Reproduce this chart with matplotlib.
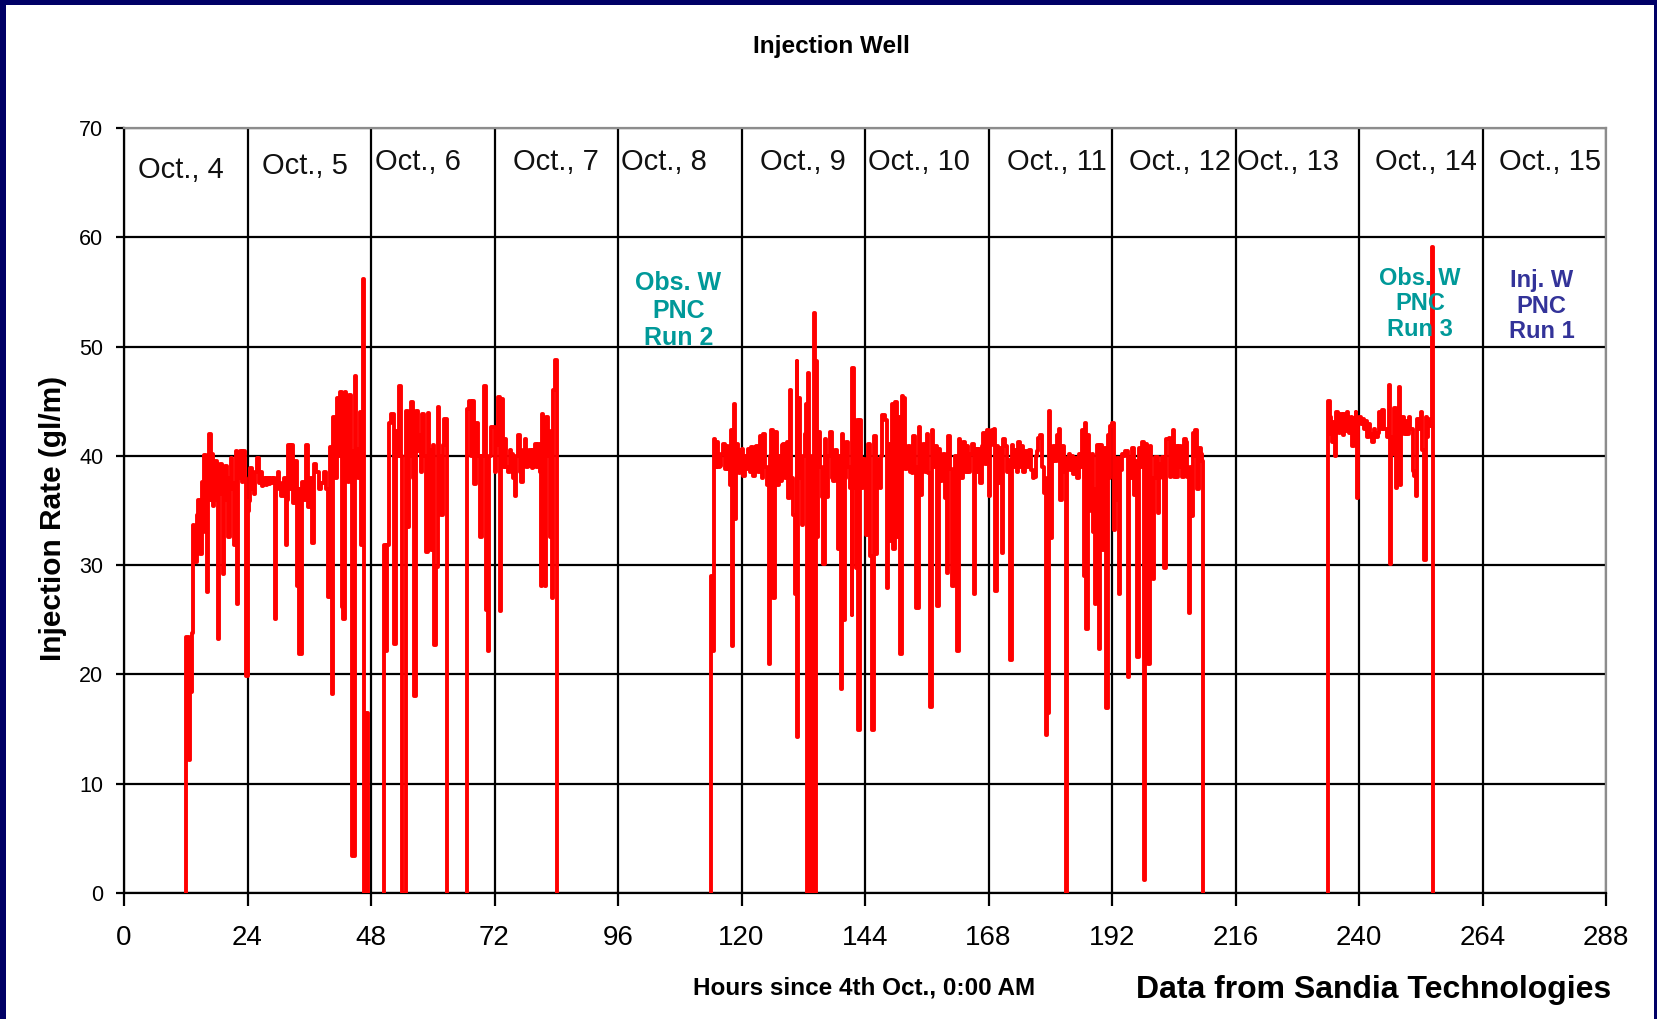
import matplotlib
matplotlib.use("Agg")
import matplotlib.pyplot as plt
from matplotlib.patches import Rectangle
import numpy as np

plt.rcParams['font.family'] = ['Liberation Sans', 'DejaVu Sans']

# Injection rate readings, (hours since 4th Oct 0:00, rate in gl/m)
# Oct 4 - Oct 5
run_a = [
    (12.0, 0), (12.0, 23.4), (12.5, 23.4), (12.6, 12.2), (12.9, 18.4), (13.1, 18.4),
    (13.2, 23.8), (13.4, 23.8), (13.5, 33.7), (13.7, 30.3), (14.1, 34.6), (14.4, 36.0),
    (14.8, 31.0), (15.1, 37.6), (15.4, 33.0), (15.6, 40.1), (16.0, 38.5), (16.2, 27.5),
    (16.4, 38.0), (16.6, 42.0), (16.9, 36.0), (17.0, 40.2), (17.2, 35.4), (17.5, 39.0),
    (17.7, 39.5), (18.0, 36.0), (18.3, 23.2), (18.5, 36.5), (18.7, 39.3), (19.0, 37.0),
    (19.3, 29.2), (19.5, 36.0), (19.6, 39.1), (20.0, 37.0), (20.3, 32.6), (20.6, 38.0),
    (20.8, 39.8), (21.0, 37.0), (21.3, 31.8), (21.5, 37.5), (21.7, 40.4), (21.9, 26.4),
    (22.2, 38.0), (22.6, 40.4), (22.9, 37.6), (23.2, 40.4), (23.5, 38.0), (23.7, 19.9),
    (24.0, 35.0), (24.2, 35.9), (24.5, 38.9), (24.8, 37.0), (25.2, 36.5), (25.5, 38.5),
    (25.9, 39.8), (26.2, 37.5), (26.5, 38.5), (26.8, 37.2), (27.1, 38.0), (27.5, 37.3),
    (27.8, 38.0), (28.1, 37.4), (28.4, 38.0), (28.8, 37.5), (29.1, 38.0), (29.4, 25.1),
    (29.6, 37.0), (29.9, 38.5), (30.2, 37.5), (30.6, 36.3), (31.0, 38.0), (31.5, 31.8),
    (31.7, 36.0), (31.9, 41.0), (32.2, 37.0), (32.5, 41.0), (32.9, 35.7), (33.3, 39.5),
    (33.7, 28.1), (34.0, 37.0), (34.1, 21.9), (34.6, 37.6), (35.0, 36.0), (35.4, 41.0),
    (35.8, 35.3), (36.2, 38.0), (36.5, 32.0), (36.9, 39.3), (37.3, 38.5), (37.8, 37.0),
    (38.3, 37.5), (38.8, 38.5), (39.3, 37.0), (39.7, 27.1), (40.0, 40.8), (40.3, 37.0),
    (40.5, 18.2), (40.7, 43.6), (41.0, 38.0), (41.4, 45.3), (41.7, 40.0), (42.0, 45.8),
    (42.3, 26.2), (42.6, 25.1), (42.9, 45.8), (43.2, 38.0), (43.5, 37.6), (43.7, 45.6),
    (44.1, 40.4), (44.4, 3.4), (44.8, 47.3), (45.1, 40.6), (45.5, 38.0), (45.8, 44.0),
    (46.1, 31.8), (46.4, 56.2), (46.6, 0), (46.9, 0), (47.0, 16.5), (47.2, 16.5), (47.4, 0),
]

# Oct 6
run_b = [
    (50.5, 0), (50.55, 31.8), (50.9, 22.1), (51.2, 31.8), (51.5, 43.0), (51.85, 43.8),
    (52.4, 22.8), (52.8, 42.3), (53.1, 40.0), (53.5, 46.4), (53.8, 40.0), (54.1, 0),
    (54.45, 0), (54.8, 44.1), (55.1, 33.5), (55.4, 40.0), (55.75, 44.9), (56.1, 38.0),
    (56.4, 18.0), (56.7, 44.1), (57.05, 40.4), (57.4, 41.9), (57.7, 38.5), (58.0, 43.8),
    (58.3, 40.0), (58.7, 31.2), (59.0, 43.9), (59.3, 40.5), (59.65, 31.4), (60.0, 41.0),
    (60.3, 22.7), (60.6, 29.8), (60.95, 44.5), (61.3, 40.0), (61.6, 34.6), (61.9, 41.0),
    (62.25, 43.4), (62.8, 0),
]

# Oct 6 - Oct 7
run_c = [
    (66.7, 0), (66.75, 44.3), (67.1, 45.0), (67.4, 40.0), (67.8, 45.0), (68.1, 37.4),
    (68.4, 43.0), (68.8, 40.0), (69.1, 32.6), (69.5, 40.0), (69.9, 46.4), (70.4, 25.9),
    (70.7, 22.1), (71.0, 40.0), (71.4, 42.6), (72.0, 38.5), (72.3, 41.0), (72.7, 45.4),
    (73.0, 25.8), (73.3, 45.2), (73.6, 39.0), (74.0, 41.5), (74.3, 39.0), (74.6, 38.5),
    (75.0, 40.5), (75.3, 40.2), (75.6, 38.0), (75.9, 36.3), (76.2, 40.0), (76.6, 41.9),
    (76.9, 38.5), (77.2, 37.6), (77.5, 40.5), (77.9, 41.5), (78.2, 39.0), (78.5, 39.1),
    (78.8, 40.5), (79.2, 38.9), (79.5, 40.5), (79.8, 41.1), (80.1, 39.0), (80.5, 41.1),
    (80.8, 38.5), (81.0, 28.1), (81.3, 43.8), (81.5, 40.0), (81.8, 28.1), (82.1, 43.6),
    (82.4, 40.0), (82.6, 42.3), (82.75, 32.6), (83.1, 27.0), (83.4, 46.0), (83.7, 48.8),
    (84.05, 0),
]

# Oct 8 - Oct 12
run_d = [
    (114.0, 0), (114.0, 29.0), (114.3, 22.1), (114.6, 41.5), (114.9, 39.0), (115.1, 41.3),
    (115.5, 39.0), (115.8, 39.1), (116.1, 40.2), (116.4, 41.1), (116.7, 38.8), (117.1, 40.9),
    (117.4, 38.8), (117.7, 37.3), (118.0, 42.4), (118.2, 22.6), (118.4, 38.0), (118.6, 44.7),
    (118.8, 34.2), (119.0, 41.1), (119.3, 38.5), (119.5, 38.4), (119.8, 40.5), (120.0, 40.6),
    (120.3, 38.2), (120.6, 40.0), (121.0, 38.8), (121.3, 40.6), (121.6, 38.5), (121.9, 40.8),
    (122.3, 38.2), (122.6, 40.5), (122.9, 40.9), (123.2, 38.5), (123.6, 41.8), (123.9, 38.0),
    (124.2, 42.0), (124.5, 39.0), (124.9, 37.3), (125.3, 21.0), (125.6, 40.0), (125.8, 42.4),
    (126.2, 27.0), (126.5, 42.2), (126.9, 37.3), (127.2, 40.0), (127.5, 37.7), (127.8, 41.0),
    (128.1, 41.1), (128.4, 38.0), (128.75, 41.3), (129.1, 36.1), (129.4, 46.0), (129.7, 38.0),
    (130.05, 34.6), (130.4, 27.4), (130.7, 48.7), (130.8, 14.3), (131.0, 45.3), (131.3, 38.0),
    (131.7, 33.7), (132.0, 40.0), (132.3, 42.0), (132.6, 44.7), (132.7, 0), (132.9, 47.6),
    (133.1, 0), (133.3, 35.3), (133.5, 0), (133.7, 40.0), (133.8, 0), (134.1, 53.1),
    (134.2, 0), (134.5, 48.7), (134.6, 32.6), (134.9, 42.2), (135.2, 39.0), (135.6, 36.2),
    (135.9, 30.1), (136.2, 41.5), (136.5, 36.2), (136.8, 40.0), (137.2, 42.2), (137.5, 38.0),
    (137.8, 37.7), (138.1, 40.5), (138.5, 38.2), (138.8, 31.5), (139.0, 40.0), (139.3, 18.7),
    (139.5, 42.0), (139.8, 25.0), (140.1, 38.0), (140.4, 41.3), (140.7, 39.0), (141.1, 37.1),
    (141.4, 25.4), (141.5, 48.0), (141.85, 37.1), (142.2, 29.7), (142.4, 43.3), (142.7, 14.9),
    (143.0, 43.3), (143.3, 37.1), (143.7, 39.7), (144.0, 38.0), (144.2, 32.8), (144.6, 41.1),
    (145.0, 30.8), (145.3, 14.9), (145.7, 41.8), (146.1, 31.0), (146.3, 39.7), (146.6, 38.0),
    (146.9, 37.1), (147.2, 40.0), (147.4, 43.7), (147.9, 43.3), (148.2, 27.9), (148.5, 41.1),
    (148.9, 32.2), (149.2, 44.7), (149.5, 31.5), (149.8, 44.9), (150.2, 32.6), (150.5, 43.6),
    (150.8, 21.9), (151.1, 45.5), (151.45, 45.3), (151.8, 38.8), (152.1, 40.5), (152.4, 40.9),
    (152.7, 38.5), (153.1, 38.4), (153.4, 41.8), (153.7, 39.0), (154.0, 26.1), (154.4, 42.6),
    (154.7, 36.4), (155.0, 40.0), (155.3, 41.1), (155.6, 38.5), (156.0, 42.0), (156.3, 38.4),
    (156.6, 17.0), (157.0, 42.4), (157.3, 39.0), (157.6, 40.9), (157.9, 26.3), (158.3, 40.6),
    (158.6, 37.7), (158.9, 40.0), (159.2, 40.2), (159.6, 36.1), (159.9, 29.3), (160.2, 41.8),
    (160.5, 38.8), (160.9, 28.1), (161.2, 36.2), (161.5, 40.0), (161.8, 22.1), (162.2, 41.5),
    (162.5, 38.0), (162.8, 38.0), (163.1, 41.3), (163.5, 38.5), (163.8, 40.9), (164.1, 38.5),
    (164.4, 40.2), (164.7, 41.1), (165.1, 27.4), (165.4, 40.6), (165.7, 38.5), (166.0, 40.6),
    (166.4, 37.5), (166.7, 40.9), (167.0, 42.1), (167.35, 39.3), (167.7, 42.4), (168.1, 36.3),
    (168.3, 41.0), (168.6, 42.4), (169.0, 42.5), (169.3, 27.6), (169.6, 40.9), (169.9, 37.5),
    (170.3, 40.7), (170.6, 31.1), (170.9, 41.5), (171.2, 40.9), (171.5, 38.5), (171.9, 39.6),
    (172.2, 21.3), (172.5, 41.0), (172.8, 39.0), (173.2, 40.5), (173.5, 38.5), (173.8, 41.3),
    (174.1, 39.0), (174.5, 40.9), (174.8, 38.5), (175.1, 40.4), (175.5, 39.0), (175.8, 40.5),
    (176.3, 38.7), (176.6, 38.0), (176.9, 38.1), (177.2, 40.0), (177.4, 40.4), (177.7, 41.6),
    (178.05, 41.9), (178.4, 39.0), (178.7, 36.6), (179.15, 14.5), (179.4, 38.0), (179.5, 16.5),
    (179.7, 44.1), (180.0, 32.5), (180.3, 39.5), (180.6, 40.9), (181.0, 39.5), (181.3, 41.9),
    (181.75, 42.5), (181.9, 36.0), (182.3, 40.9), (182.6, 38.5), (182.9, 39.8), (183.1, 0),
    (183.3, 39.0), (183.6, 40.2), (183.9, 38.7), (184.2, 40.0), (184.5, 38.3), (184.9, 39.8),
    (185.2, 38.0), (185.5, 40.2), (185.9, 39.0), (186.2, 42.4), (186.5, 29.0), (186.8, 43.0),
    (186.9, 24.2), (187.3, 41.9), (187.5, 35.0), (187.8, 36.3), (188.1, 40.2), (188.4, 33.0),
    (188.6, 26.4), (188.9, 37.0), (189.1, 41.0), (189.4, 22.3), (189.7, 41.0), (190.05, 31.4),
    (190.4, 40.7), (190.8, 16.9), (191.2, 41.9), (191.5, 38.0), (191.7, 42.7), (192.0, 43.0),
    (192.3, 33.2), (192.6, 36.0), (193.0, 39.8), (193.4, 27.4), (193.6, 38.7), (193.9, 40.2),
    (194.3, 40.0), (194.6, 40.4), (195.1, 19.8), (195.4, 39.8), (195.7, 38.0), (195.9, 40.7),
    (196.2, 36.4), (196.6, 39.5), (196.9, 21.6), (197.2, 40.7), (197.5, 39.0), (197.8, 41.3),
    (198.3, 1.2), (198.5, 41.1), (198.8, 39.0), (199.0, 21.0), (199.3, 40.9), (199.6, 34.8),
    (199.9, 28.7), (200.2, 38.0), (200.4, 39.9), (200.9, 34.8), (201.1, 38.0), (201.4, 39.3),
    (201.7, 39.9), (202.0, 38.0), (202.2, 29.7), (202.5, 41.5), (203.0, 41.6), (203.3, 38.1),
    (203.5, 40.0), (203.8, 42.4), (204.0, 38.1), (204.3, 40.9), (204.6, 38.1), (204.8, 40.0),
    (205.1, 40.9), (205.4, 39.0), (205.6, 38.1), (205.9, 41.5), (206.3, 41.3), (206.6, 38.1),
    (207.0, 25.6), (207.2, 39.0), (207.4, 34.5), (207.7, 42.1), (208.0, 40.0), (208.2, 42.4),
    (208.5, 37.0), (208.9, 40.7), (209.2, 40.2), (209.5, 39.5), (209.6, 0),
]

# Oct 13 - Oct 14
run_e = [
    (234.0, 0), (234.0, 45.0), (234.3, 43.6), (234.5, 42.0), (234.7, 41.3), (234.95, 43.1),
    (235.1, 42.0), (235.3, 40.0), (235.6, 44.0), (235.9, 42.5), (236.1, 42.1), (236.4, 43.8),
    (236.6, 42.5), (236.8, 41.9), (237.1, 43.8), (237.4, 42.3), (237.7, 44.0), (237.9, 42.5),
    (238.1, 42.1), (238.4, 43.6), (238.7, 40.9), (239.0, 42.9), (239.2, 43.5), (239.35, 44.0),
    (239.5, 42.0), (239.7, 36.1), (239.9, 43.0), (240.0, 43.6), (240.3, 42.9), (240.65, 43.4),
    (241.0, 42.5), (241.3, 43.2), (241.6, 41.7), (241.9, 42.9), (242.2, 42.0), (242.6, 41.3),
    (242.9, 42.5), (243.2, 41.7), (243.6, 42.1), (243.9, 44.0), (244.2, 42.5), (244.5, 44.2),
    (244.8, 42.5), (245.2, 42.5), (245.5, 41.7), (245.8, 46.5), (246.0, 30.1), (246.2, 41.7),
    (246.5, 40.2), (246.8, 44.4), (247.1, 37.1), (247.4, 40.5), (247.8, 46.3), (247.9, 37.3),
    (248.1, 43.6), (248.4, 43.6), (248.7, 42.0), (249.1, 43.2), (249.4, 42.0), (249.7, 43.6),
    (250.0, 42.5), (250.4, 38.6), (250.7, 38.2), (251.0, 36.3), (251.3, 43.4), (251.65, 42.5),
    (252.0, 44.0), (252.3, 40.5), (252.6, 30.5), (252.95, 43.6), (253.2, 41.7), (253.5, 43.4),
    (253.7, 42.7), (254.0, 43.0), (254.2, 59.1), (254.4, 0),
]

day_labels = ["Oct., 4", "Oct., 5", "Oct., 6", "Oct., 7", "Oct., 8", "Oct., 9",
              "Oct., 10", "Oct., 11", "Oct., 12", "Oct., 13", "Oct., 14", "Oct., 15"]
# where each day caption sits (hours, rate)
day_label_pos = [(11.0, 66.2), (35.1, 66.5), (57.2, 66.9), (84.0, 66.9), (105.0, 66.9),
                 (131.9, 66.9), (154.5, 66.9), (181.2, 66.9), (205.2, 66.9), (226.2, 66.9),
                 (253.1, 66.9), (277.1, 66.9)]

runs = [
    ("Obs. W\nPNC\nRun 2", 107.7, 53.3, "#009999", 18, 1.18),
    ("Obs. W\nPNC\nRun 3", 251.9, 53.9, "#009999", 17, 1.12),
    ("Inj. W\nPNC\nRun 1", 275.5, 53.7, "#333399", 17, 1.15),
]

W, H = 1658, 1019
fig = plt.figure(figsize=(W / 100, H / 100), dpi=100)
fig.patch.set_facecolor("white")

# dark frame round the slide
navy = "#000066"
for x0, y0, w, h in [(0, 0, 6, H), (0, H - 5, W, 5), (W - 4, 0, 4, H)]:
    fig.add_artist(Rectangle((x0 / W, y0 / H), w / W, h / H, transform=fig.transFigure,
                             facecolor=navy, edgecolor="none"))

ax = fig.add_axes([124 / W, 126 / H, 1482 / W, 765 / H])
ax.set_xlim(0, 288)
ax.set_ylim(0, 70)
ax.set_xticks(np.arange(0, 289, 24))
ax.set_yticks(np.arange(0, 71, 10))
ax.set_axisbelow(True)
ax.grid(True, color="black", linewidth=1.6)

for spine in ["top", "right"]:
    ax.spines[spine].set_color("#8c8c8c")
    ax.spines[spine].set_linewidth(1.6)
for spine in ["left", "bottom"]:
    ax.spines[spine].set_color("black")
    ax.spines[spine].set_linewidth(1.6)

ax.tick_params(axis="x", direction="out", length=9, width=1.6, labelsize=20, pad=14)
ax.tick_params(axis="y", direction="out", length=6, width=1.6, labelsize=15.5, pad=9)

for run in [run_a, run_b, run_c, run_d, run_e]:
    hrs = [p[0] for p in run]
    rate = [p[1] for p in run]
    ax.plot(hrs, rate, color="red", linewidth=2.8, drawstyle="steps-post", zorder=3)

for label, (hx, hy) in zip(day_labels, day_label_pos):
    ax.text(hx, hy, label, fontsize=21, ha="center", va="center", color="#111111")

for txt, hx, hy, col, fs, ls in runs:
    ax.text(hx, hy, txt, fontsize=fs, fontweight="bold", ha="center", va="center",
            color=col, linespacing=ls, zorder=4)

fig.text(831 / W, 1 - 47 / H, "Injection Well", fontsize=17.5, fontweight="bold",
         ha="center", va="center")
fig.text(53 / W, 1 - 518 / H, "Injection Rate (gl/m)", fontsize=21.5, fontweight="bold",
         ha="center", va="center", rotation=90)
fig.text(864 / W, 1 - 988 / H, "Hours since 4th Oct., 0:00 AM", fontsize=17.5,
         fontweight="bold", ha="center", va="center")
fig.text(1374 / W, 1 - 990 / H, "Data from Sandia Technologies", fontsize=23,
         fontweight="bold", ha="center", va="center")

fig.savefig("out.png", dpi=100, facecolor=fig.get_facecolor())
